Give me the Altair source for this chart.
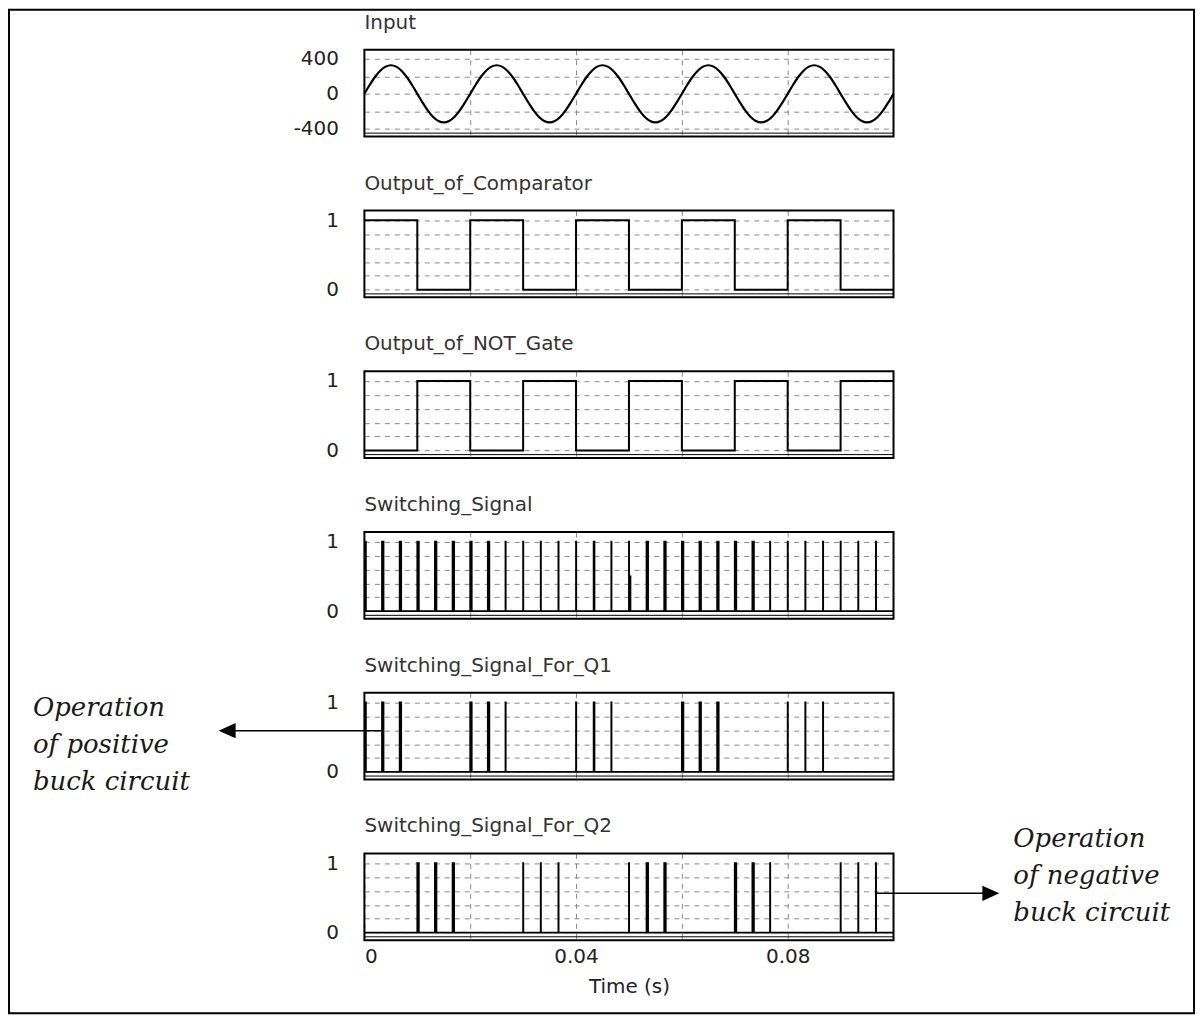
import altair as alt
import pandas as pd

# ---------------- data ----------------
input_time = [i / 1000 for i in range(101)]  # sample instants, s
input_value = [
    0, 100, 191, 263, 309, 325, 309, 263, 191, 100,
    0, -100, -191, -263, -309, -325, -309, -263, -191, -100,
    0, 100, 191, 263, 309, 325, 309, 263, 191, 100,
    0, -100, -191, -263, -309, -325, -309, -263, -191, -100,
    0, 100, 191, 263, 309, 325, 309, 263, 191, 100,
    0, -100, -191, -263, -309, -325, -309, -263, -191, -100,
    0, 100, 191, 263, 309, 325, 309, 263, 191, 100,
    0, -100, -191, -263, -309, -325, -309, -263, -191, -100,
    0, 100, 191, 263, 309, 325, 309, 263, 191, 100,
    0, -100, -191, -263, -309, -325, -309, -263, -191, -100,
    0,
]

gate_time = [0.0, 0.01, 0.02, 0.03, 0.04, 0.05, 0.06, 0.07, 0.08, 0.09, 0.1]
comparator_value = [1, 0, 1, 0, 1, 0, 1, 0, 1, 0, 0]
not_gate_value = [0, 1, 0, 1, 0, 1, 0, 1, 0, 1, 1]

pulse_time = [0.0, 0.00333, 0.00667, 0.01, 0.01333, 0.01667,
              0.02, 0.02333, 0.02667, 0.03, 0.03333, 0.03667,
              0.04, 0.04333, 0.04667, 0.05, 0.05333, 0.05667,
              0.06, 0.06333, 0.06667, 0.07, 0.07333, 0.07667,
              0.08, 0.08333, 0.08667, 0.09, 0.09333, 0.09667]
pulse_width = [0.00028, 0.00028, 0.00028, 0.00028, 0.00028, 0.00028,
               0.00028, 0.00028, 0.00003, 0.00003, 0.00003, 0.00003,
               0.00003, 0.00015, 0.00003, 0.00028, 0.00028, 0.00028,
               0.00028, 0.00028, 0.00028, 0.00028, 0.00028, 0.00003,
               0.00003, 0.00003, 0.00003, 0.00003, 0.00003, 0.00003]
# level the pulse drops to right after its rising edge (1 = full pulse)
pulse_level = [1, 1, 1, 1, 1, 1, 1, 1, 1, 1, 1, 1, 1, 1, 1,
               0.5, 1, 1, 1, 1, 1, 1, 1, 1, 1, 1, 1, 1, 1, 1]

q1_index = [0, 1, 2, 6, 7, 8, 12, 13, 14, 18, 19, 20, 24, 25, 26]
q1_width = [0.00028, 0.00028, 0.00028, 0.00028, 0.00028, 0.00003,
            0.00003, 0.00015, 0.00003, 0.00028, 0.00028, 0.00028,
            0.00003, 0.00003, 0.00003]
q2_index = [3, 4, 5, 9, 10, 11, 15, 16, 17, 21, 22, 23, 27, 28, 29]
q2_width = [0.00028, 0.00028, 0.00028, 0.00003, 0.00003, 0.00003,
            0.00003, 0.00028, 0.00028, 0.00028, 0.00028, 0.00003,
            0.00003, 0.00003, 0.00003]

titles = ["Input", "Output_of_Comparator", "Output_of_NOT_Gate",
          "Switching_Signal", "Switching_Signal_For_Q1", "Switching_Signal_For_Q2"]

# ---------------- layout / style ----------------
W, H, GAP = 530, 87, 74
GRID = "#8a8a8a"
SANS = "DejaVu Sans"
SERIF = "DejaVu Serif"
THIN = 0.00002
T_END = 0.1


def pulse_train(times, widths, levels=None):
    rows = []
    if times[0] > 0:
        rows.append((0.0, 0))
    for i, (t, w) in enumerate(zip(times, widths)):
        lv = 1 if levels is None else levels[i]
        rows.append((t, 1))
        if lv < 1:
            rows.append((t + THIN, lv))
        rows.append((t + w, 0))
    rows.append((T_END, 0))
    return pd.DataFrame(rows, columns=["t", "v"])


one = pd.DataFrame({"d": [0]})

series = [
    pd.DataFrame({"t": input_time, "v": input_value}),
    pd.DataFrame({"t": gate_time, "v": comparator_value}),
    pd.DataFrame({"t": gate_time, "v": not_gate_value}),
    pulse_train(pulse_time, pulse_width, pulse_level),
    pulse_train([pulse_time[k] for k in q1_index], q1_width),
    pulse_train([pulse_time[k] for k in q2_index], q2_width),
]


def x_enc(bottom):
    if bottom:
        ax = alt.Axis(values=[0, 0.02, 0.04, 0.06, 0.08],
                      labelExpr="round(datum.value * 100) % 4 == 0 ? toString(datum.value) : ''",
                      grid=True, gridDash=[5, 5], gridColor=GRID, gridWidth=1,
                      ticks=False, domain=False,
                      labelFont=SANS, labelFontSize=20, labelColor="#222", labelPadding=6,
                      titleFont=SANS, titleFontSize=20, titleFontWeight="normal",
                      titleColor="#222", titlePadding=10)
        return alt.X("t:Q", title="Time (s)", axis=ax,
                     scale=alt.Scale(domain=[0, T_END], nice=False, zero=False))
    ax = alt.Axis(values=[0.02, 0.04, 0.06, 0.08], grid=True, gridDash=[5, 5],
                  gridColor=GRID, gridWidth=1, labels=False, ticks=False, domain=False)
    return alt.X("t:Q", title=None, axis=ax,
                 scale=alt.Scale(domain=[0, T_END], nice=False, zero=False))


def y_enc(analog):
    common = dict(grid=True, gridDash=[5, 5], gridColor=GRID, gridWidth=1,
                  ticks=False, domain=False, labelFont=SANS, labelFontSize=20,
                  labelColor="#222", labelPadding=26)
    if analog:
        ax = alt.Axis(values=[-400, -200, 0, 200, 400],
                      labelExpr="datum.value % 400 == 0 ? toString(datum.value) : ''", **common)
        sc = alt.Scale(domain=[-487, 501], nice=False, zero=False)
    else:
        ax = alt.Axis(values=[0, 0.2, 0.4, 0.6, 0.8, 1],
                      labelExpr="datum.value == 0 || datum.value == 1 ? toString(datum.value) : ''",
                      **common)
        sc = alt.Scale(domain=[-0.11, 1.14], nice=False, zero=False)
    return alt.Y("v:Q", title=None, axis=ax, scale=sc)


panels = []
for i, df in enumerate(series):
    if i == 0:
        mark = alt.Chart(df).mark_line(color="black", strokeWidth=2.2, interpolate="monotone")
    elif i in (1, 2):
        mark = alt.Chart(df).mark_line(color="black", strokeWidth=2, interpolate="step-after")
    else:
        mark = alt.Chart(df).mark_line(color="black", strokeWidth=1.8, interpolate="step-after")
    line = mark.encode(x=x_enc(i == 5), y=y_enc(i == 0))

    title = alt.Chart(one).mark_text(align="left", baseline="alphabetic", font=SANS,
                                     fontSize=20, color="#333").encode(
        x=alt.value(0), y=alt.value(-21), text=alt.value(titles[i]))
    box = alt.Chart(one).mark_rect(fill="transparent", stroke="black", strokeWidth=2).encode(
        x=alt.value(0), x2=alt.value(W), y=alt.value(0), y2=alt.value(H))
    inner = alt.Chart(one).mark_rule(color="black", strokeWidth=1).encode(
        x=alt.value(0), x2=alt.value(W), y=alt.value(H - 3.5))
    layers = [line, inner, box, title]

    if i == 0:
        frame = alt.Chart(one).mark_rect(fill="transparent", stroke="black", strokeWidth=2).encode(
            x=alt.value(-356), x2=alt.value(831), y=alt.value(-40), y2=alt.value(965))
        layers.append(frame)
    if i == 4:
        layers += [
            alt.Chart(one).mark_rule(color="black", strokeWidth=1.5).encode(
                x=alt.value(-138), x2=alt.value(17), y=alt.value(38)),
            alt.Chart(one).mark_point(shape="M-1,0L1,-0.9L1,0.9Z", filled=True, color="black",
                                      size=289, opacity=1).encode(
                x=alt.value(-137.5), y=alt.value(38)),
            alt.Chart(one).mark_text(align="left", baseline="alphabetic", font=SERIF,
                                     fontStyle="italic", fontSize=26, lineHeight=37,
                                     color="#1a1a1a").encode(
                x=alt.value(-332), y=alt.value(23),
                text=alt.value(["Operation", "of positive", "buck circuit"])),
        ]
    if i == 5:
        layers += [
            alt.Chart(one).mark_rule(color="black", strokeWidth=1.5).encode(
                x=alt.value(512), x2=alt.value(628), y=alt.value(40)),
            alt.Chart(one).mark_point(shape="M1,0L-1,-0.9L-1,0.9Z", filled=True, color="black",
                                      size=289, opacity=1).encode(
                x=alt.value(627.5), y=alt.value(40)),
            alt.Chart(one).mark_text(align="left", baseline="alphabetic", font=SERIF,
                                     fontStyle="italic", fontSize=26, lineHeight=37,
                                     color="#1a1a1a").encode(
                x=alt.value(650), y=alt.value(-6),
                text=alt.value(["Operation", "of negative", "buck circuit"])),
        ]
    panels.append(alt.layer(*layers).properties(width=W, height=H))

chart = alt.vconcat(*panels, spacing=GAP, bounds="flush").properties(
    padding={"left": 7, "top": 7, "right": 7, "bottom": 7},
    background="white",
).configure_view(stroke="transparent")

chart.save("out.html", embed_options={"renderer": "svg", "actions": False})
